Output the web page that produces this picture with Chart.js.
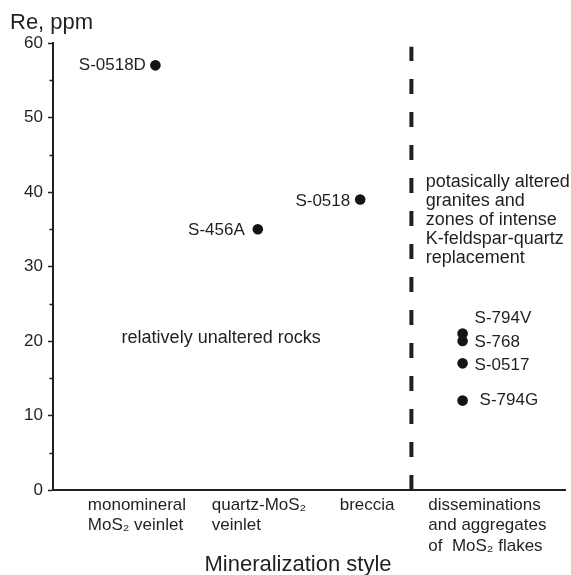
<!DOCTYPE html>
<html>
<head>
<meta charset="utf-8">
<script src="https://cdn.jsdelivr.net/npm/chart.js@4.4.1/dist/chart.umd.min.js"></script>
<style>
  html, body { margin: 0; padding: 0; background: #fff; }
  #wrap { width: 571px; height: 575px; position: relative; }
</style>
</head>
<body>
<div id="wrap"><canvas id="chart" width="571" height="575"></canvas></div>
<script>
// Re content of molybdenite samples grouped by mineralization style
const sampleIds   = ['S-0518D', 'S-456A', 'S-0518', 'S-794V', 'S-768', 'S-0517', 'S-794G'];
const sampleStyle = [1, 2, 3, 4, 4, 4, 4];          // which style column each sample sits in
const rePpm       = [57, 35, 39, 21, 20, 17, 12];

const styleCategories = [
  ['monomineral', 'MoS\u2082 veinlet'],
  ['quartz-MoS\u2082', 'veinlet'],
  ['breccia'],
  ['disseminations', 'and aggregates', 'of  MoS\u2082 flakes']
];
const yMajorTicks = [0, 10, 20, 30, 40, 50, 60];
const yMinorTicks = [5, 15, 25, 35, 45, 55];

const regionNotes = [
  { lines: ['relatively unaltered rocks'], x: 1.34, y: 20.4 },
  { lines: ['potasically altered', 'granites and', 'zones of intense',
            'K-feldspar-quartz', 'replacement'], x: 7.28, y: 41.4 }
];

const INK = '#231f20';
const FAMILY = '"Liberation Sans", Arial, Helvetica, sans-serif';

// each style occupies a 2-unit column on a 0..10 axis
const points = rePpm.map((v, i) => ({ x: sampleStyle[i] * 2, y: v }));
// left edges of the multi-line style captions
const captionStart = [0.68, 3.1, 5.6, 7.33];

// label side / nudge for each sample id
const labelPlacement = [
  { side: 'left',  gap: 9.5, dy: 0 },
  { side: 'left',  gap: 13,  dy: 1 },
  { side: 'left',  gap: 10,  dy: 2 },
  { side: 'right', gap: 12,  dy: -15 },
  { side: 'right', gap: 12,  dy: 1 },
  { side: 'right', gap: 12,  dy: 2 },
  { side: 'right', gap: 17,  dy: 0 }
];

const decorations = {
  id: 'decorations',
  afterDatasetsDraw(chart) {
    const { ctx, scales: { x, y } } = chart;
    ctx.save();
    ctx.fillStyle = INK;
    ctx.strokeStyle = INK;

    // short minor ticks on the value axis
    ctx.lineWidth = 1.5;
    yMinorTicks.forEach(v => {
      const py = Math.round(y.getPixelForValue(v)) + 0.5;
      ctx.beginPath();
      ctx.moveTo(x.left - 3.5, py);
      ctx.lineTo(x.left, py);
      ctx.stroke();
    });

    // sample labels
    ctx.font = '17px ' + FAMILY;
    ctx.textBaseline = 'middle';
    const meta = chart.getDatasetMeta(0);
    meta.data.forEach((pt, i) => {
      const p = labelPlacement[i];
      ctx.textAlign = p.side === 'left' ? 'right' : 'left';
      const tx = p.side === 'left' ? pt.x - p.gap : pt.x + p.gap;
      ctx.fillText(sampleIds[i], tx, pt.y + p.dy);
    });

    // region notes
    ctx.font = '18px ' + FAMILY;
    ctx.textAlign = 'left';
    regionNotes.forEach(n => {
      const px = x.getPixelForValue(n.x);
      const py = y.getPixelForValue(n.y);
      n.lines.forEach((t, k) => ctx.fillText(t, px, py + k * 19));
    });

    // axis titles
    ctx.font = '22px ' + FAMILY;
    ctx.textAlign = 'left';
    ctx.fillText('Re, ppm', 10, 23);
    ctx.textAlign = 'center';
    ctx.fillText('Mineralization style', 298, 565);
    ctx.restore();
  }
};

new Chart(document.getElementById('chart'), {
  type: 'scatter',
  data: {
    datasets: [
      {
        label: 'Re',
        data: points,
        pointRadius: 5.3,
        pointHoverRadius: 5.3,
        pointBackgroundColor: '#141414',
        pointBorderWidth: 0
      },
      {
        label: 'boundary',
        data: [{ x: 7, y: 0 }, { x: 7, y: 59.5 }],
        showLine: true,
        borderColor: INK,
        borderWidth: 4,
        borderDash: [15, 18],
        borderCapStyle: 'butt',
        pointRadius: 0,
        pointHoverRadius: 0
      }
    ]
  },
  options: {
    responsive: false,
    animation: false,
    devicePixelRatio: 1,
    layout: { padding: { top: 43, right: 6, bottom: 0, left: 0 } },
    plugins: { legend: { display: false }, tooltip: { enabled: false } },
    scales: {
      x: {
        type: 'linear',
        min: 0,
        max: 10,
        afterBuildTicks: s => { s.ticks = captionStart.map(v => ({ value: v })); },
        afterFit: s => { s.height = 85; },
        ticks: {
          autoSkip: false,
          maxRotation: 0,
          align: 'start',
          padding: 5,
          color: INK,
          font: { family: FAMILY, size: 17, lineHeight: 1.2 },
          callback: (v, i) => styleCategories[i]
        },
        grid: { display: false, drawTicks: false },
        border: { display: true, color: INK, width: 2 }
      },
      y: {
        min: 0,
        max: 60,
        afterBuildTicks: s => { s.ticks = yMajorTicks.map(v => ({ value: v })); },
        afterFit: s => { s.width = 53; },
        ticks: {
          padding: 5,
          color: INK,
          font: { family: FAMILY, size: 17 }
        },
        grid: {
          display: true,
          drawOnChartArea: false,
          drawTicks: true,
          tickLength: 5,
          tickWidth: 1.5,
          tickColor: INK
        },
        border: { display: true, color: INK, width: 2 }
      }
    }
  },
  plugins: [decorations]
});
</script>
</body>
</html>
